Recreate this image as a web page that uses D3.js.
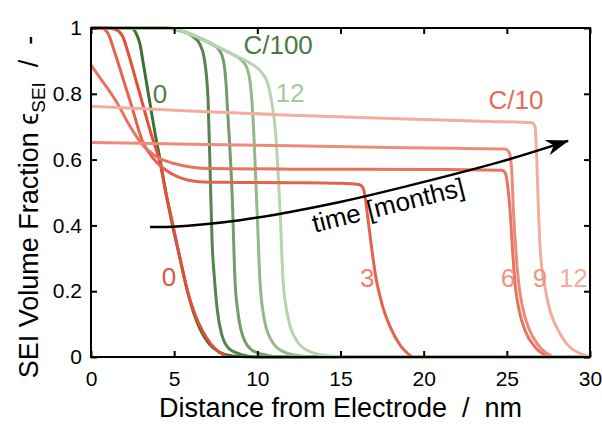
<!DOCTYPE html>
<html>
<head>
<meta charset="utf-8">
<script src="https://cdnjs.cloudflare.com/ajax/libs/d3/7.8.5/d3.min.js"></script>
<style>
  body { margin: 0; background: #fff; }
  svg { display: block; font-family: "Liberation Sans", Arial, Helvetica, sans-serif; }
</style>
</head>
<body>
<svg></svg>
<script>
const width = 602;
const height = 424;
const margin = { top: 28, right: 12, bottom: 67, left: 91 };

const xTicks = [0, 5, 10, 15, 20, 25, 30];
const yTicks = [0, 0.2, 0.4, 0.6, 0.8, 1];

// C/100, months 0, 3, 6, 9, 12  ([nm, fraction])
const green0 = [[0,1],[2.4,1],[2.7,0.985],[2.95,0.95],[3.15,0.89],[3.55,0.77],[3.85,0.68],[4.15,0.6],[4.5,0.5],[4.9,0.4],[5.35,0.3],[5.8,0.2],[6.2,0.13],[6.6,0.08],[7.1,0.04],[7.7,0.015],[8.5,0.003],[10,0],[30,0]];
const green3 = [[0,1],[4.5,1],[5.5,0.99],[6.1,0.975],[6.55,0.95],[6.8,0.91],[6.95,0.85],[7.04,0.78],[7.16,0.57],[7.28,0.35],[7.42,0.24],[7.6,0.14],[7.85,0.07],[8.3,0.025],[9,0.008],[10,0],[30,0]];
const green6 = [[0,1],[4.5,1],[5.5,0.99],[6.5,0.97],[7.3,0.95],[7.75,0.93],[8,0.89],[8.12,0.83],[8.2,0.76],[8.48,0.5],[8.66,0.23],[8.85,0.13],[9.15,0.06],[9.7,0.02],[10.6,0.005],[11.5,0],[30,0]];
const green9 = [[0,1],[4.5,1],[5.5,0.99],[6.5,0.97],[7.5,0.945],[8.5,0.92],[9.1,0.9],[9.4,0.875],[9.58,0.83],[9.7,0.76],[9.98,0.45],[10.16,0.23],[10.4,0.12],[10.8,0.055],[11.5,0.018],[12.5,0.004],[13.5,0],[30,0]];
const green12 = [[0,1],[4.8,1],[5.5,0.99],[6.5,0.97],[7.5,0.945],[8.5,0.92],[9.5,0.895],[10.2,0.868],[10.6,0.835],[10.85,0.78],[11.1,0.68],[11.36,0.45],[11.55,0.23],[11.85,0.12],[12.3,0.055],[13.1,0.018],[14.2,0.004],[15.5,0],[30,0]];

// C/10, months 0, 3, 6, 9, 12
const red0 = [[0,1],[1,1],[1.5,0.995],[1.9,0.975],[2.2,0.93],[2.6,0.86],[3.1,0.77],[3.6,0.68],[4.15,0.59],[4.5,0.5],[4.93,0.4],[5.35,0.3],[5.8,0.2],[6.25,0.13],[6.7,0.08],[7.2,0.04],[7.7,0.015],[8.2,0]];
const red3 = [[0,1],[0.6,1],[1,0.985],[1.4,0.93],[1.9,0.85],[2.4,0.77],[3.1,0.655],[3.8,0.6],[4.45,0.57],[5.2,0.548],[5.8,0.538],[6.5,0.533],[8,0.531],[12,0.53],[15,0.528],[16.1,0.524],[16.35,0.515],[16.5,0.48],[16.65,0.42],[16.85,0.34],[17.1,0.25],[17.5,0.16],[18,0.09],[18.6,0.035],[19.3,0]];
const red6 = [[0,0.887],[0.8,0.83],[1.6,0.77],[2.3,0.705],[3.1,0.645],[4,0.607],[5,0.588],[5.8,0.579],[7,0.573],[12,0.571],[20,0.57],[24.7,0.568],[24.9,0.56],[25.05,0.52],[25.2,0.44],[25.35,0.32],[25.5,0.22],[25.75,0.14],[26.1,0.08],[26.7,0.03],[27.5,0]];
const red9 = [[0,0.652],[6,0.647],[12,0.642],[18,0.637],[24.9,0.632],[25.15,0.62],[25.3,0.56],[25.4,0.44],[25.55,0.32],[25.7,0.23],[25.95,0.15],[26.3,0.09],[26.9,0.035],[27.8,0]];
const red12 = [[0,0.762],[6,0.748],[12,0.735],[18,0.725],[24,0.716],[26.5,0.712],[26.7,0.7],[26.8,0.6],[26.9,0.45],[27,0.33],[27.3,0.21],[27.6,0.14],[28,0.09],[28.6,0.04],[29.7,0.005],[30,0]];

const greenSeries = [green0, green3, green6, green9, green12];
const redSeries = [red0, red3, red6, red9, red12];
const greenColors = ['#3f6f36', '#55844c', '#739d6a', '#93b98b', '#b6d4ad'];
const redColors = ['#e2503a', '#e5624d', '#e8735f', '#ec8b7a', '#f2ad9c'];

// time arrow path
const arrowPoints = [[3.55,0.395],[4.93,0.396],[8.96,0.416],[11.97,0.441],[14.97,0.471],[18.58,0.514],[24.59,0.593],[28.68,0.657]];

// curve labels: [text, x nm, y fraction (baseline), colour]
const labels = [
  ['C/100', 11.25, 0.92, '#497a40'],
  ['0', 4.15, 0.772, '#4f8046'],
  ['12', 11.97, 0.775, '#a8c9a0'],
  ['C/10', 25.55, 0.755, '#e66a55'],
  ['0', 4.69, 0.215, '#e2553f'],
  ['3', 16.6, 0.213, '#eb8370'],
  ['6', 25.07, 0.213, '#ef9282'],
  ['9', 27.0, 0.213, '#ef9282'],
  ['12', 29.0, 0.213, '#f3ae9e']
];

const svg = d3.select('svg').attr('width', width).attr('height', height);

const xScale = d3.scaleLinear().domain([0, 30]).range([margin.left, width - margin.right]);
const yScale = d3.scaleLinear().domain([0, 1]).range([height - margin.bottom, margin.top]);

const line = d3.line()
  .x(d => xScale(d[0]))
  .y(d => yScale(d[1]))
  .curve(d3.curveMonotoneX);

const drawCurves = (series, colors) => {
  series.forEach((s, i) => {
    svg.append('path')
      .datum(s)
      .attr('d', line)
      .attr('fill', 'none')
      .attr('stroke', colors[i])
      .attr('stroke-width', 3)
      .attr('stroke-linejoin', 'round');
  });
};

drawCurves(greenSeries, greenColors);
drawCurves(redSeries, redColors);

// arrow
svg.append('defs').append('marker')
  .attr('id', 'head')
  .attr('markerUnits', 'userSpaceOnUse')
  .attr('viewBox', '-24 -9 26 18')
  .attr('markerWidth', 26)
  .attr('markerHeight', 18)
  .attr('refX', 0)
  .attr('refY', 0)
  .attr('orient', 'auto')
  .append('path')
  .attr('d', 'M1,0 L-22,-8 L-15,0 L-22,8 Z')
  .attr('fill', '#000');

svg.append('path')
  .datum(arrowPoints)
  .attr('d', d3.line().x(d => xScale(d[0])).y(d => yScale(d[1])).curve(d3.curveCatmullRom))
  .attr('fill', 'none')
  .attr('stroke', '#000')
  .attr('stroke-width', 2.5)
  .attr('marker-end', 'url(#head)');

svg.append('text')
  .attr('transform', 'translate(' + xScale(18.0) + ',' + yScale(0.435) + ') rotate(-14)')
  .attr('text-anchor', 'middle')
  .attr('font-size', 26)
  .attr('fill', '#000')
  .text('time [months]');

svg.selectAll('.curve-label')
  .data(labels)
  .enter()
  .append('text')
  .attr('class', 'curve-label')
  .attr('x', d => xScale(d[1]))
  .attr('y', d => yScale(d[2]))
  .attr('text-anchor', 'middle')
  .attr('font-size', 26)
  .attr('fill', d => d[3])
  .text(d => d[0]);

// axes, ticks inward on all sides
const axisStyle = g => {
  g.selectAll('.tick line').attr('stroke-width', 2);
  g.selectAll('text').attr('font-size', 21).attr('fill', '#000')
    .attr('font-family', '"Liberation Sans", Arial, Helvetica, sans-serif');
  g.select('.domain').remove();
};

svg.append('g')
  .attr('transform', 'translate(0,' + yScale(0) + ')')
  .call(d3.axisBottom(xScale).tickValues(xTicks).tickSize(-6).tickPadding(14).tickFormat(d3.format('d')))
  .call(axisStyle);

svg.append('g')
  .attr('transform', 'translate(0,' + yScale(1) + ')')
  .call(d3.axisTop(xScale).tickValues(xTicks).tickSize(-6).tickFormat(''))
  .call(axisStyle);

svg.append('g')
  .attr('transform', 'translate(' + xScale(0) + ',0)')
  .call(d3.axisLeft(yScale).tickValues(yTicks).tickSize(-6).tickPadding(9).tickFormat(d => d === 0 || d === 1 ? d : d3.format('.1f')(d)))
  .call(axisStyle);

svg.append('g')
  .attr('transform', 'translate(' + xScale(30) + ',0)')
  .call(d3.axisRight(yScale).tickValues(yTicks).tickSize(-6).tickFormat(''))
  .call(axisStyle);

svg.append('rect')
  .attr('x', xScale(0))
  .attr('y', yScale(1))
  .attr('width', xScale(30) - xScale(0))
  .attr('height', yScale(0) - yScale(1))
  .attr('fill', 'none')
  .attr('stroke', '#000')
  .attr('stroke-width', 2);

// axis titles
svg.append('text')
  .attr('x', (xScale(0) + xScale(30)) / 2)
  .attr('y', 417)
  .attr('text-anchor', 'middle')
  .attr('font-size', 27)
  .attr('fill', '#000')
  .text('Distance from Electrode\u00a0\u00a0/\u00a0\u00a0nm');

const yTitle = svg.append('text')
  .attr('transform', 'translate(38,' + 207 + ') rotate(-90)')
  .attr('text-anchor', 'middle')
  .attr('font-size', 27)
  .attr('fill', '#000');
yTitle.append('tspan').text('SEI Volume Fraction \u03f5');
yTitle.append('tspan').attr('font-size', 19).attr('dy', 7).text('SEI');
yTitle.append('tspan').attr('dy', -7).text('\u00a0\u00a0/\u00a0\u00a0-');
</script>
</body>
</html>
